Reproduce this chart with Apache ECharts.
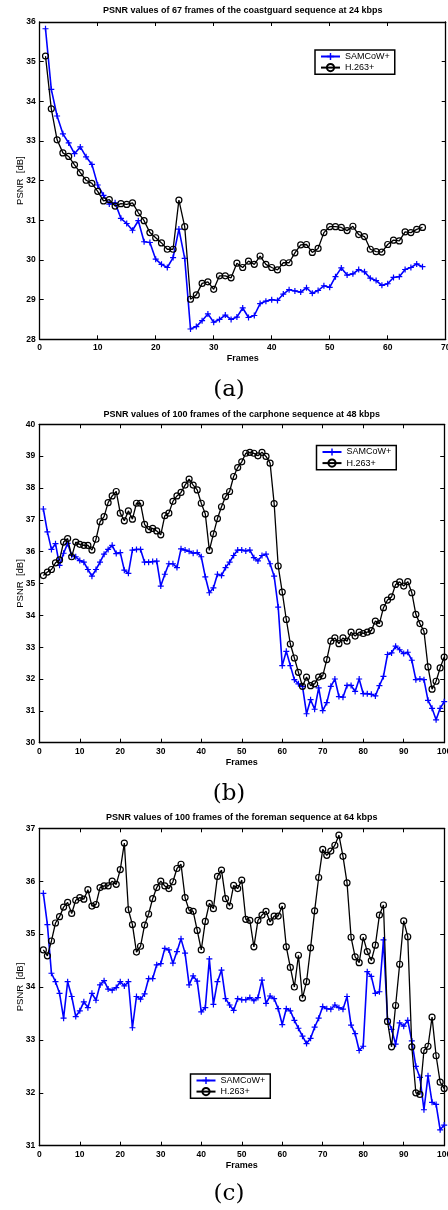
<!DOCTYPE html>
<html><head><meta charset="utf-8">
<script src="https://cdn.jsdelivr.net/npm/echarts@6/dist/echarts.min.js"></script>
<style>html,body{margin:0;padding:0;background:#fff}#c{width:448px;height:1210px}</style>
</head><body><div id="c"></div>
<script>
// ---- data ----
const seriesNames = ['SAMCoW+', 'H.263+'];
const titles = [
  'PSNR values of 67 frames of the coastguard sequence at 24 kbps',
  'PSNR values of 100 frames of the carphone sequence at 48 kbps',
  'PSNR values of 100 frames of the foreman sequence at 64 kbps'
];
const captions = ['(a)', '(b)', '(c)'];
const xAxisName = 'Frames';
const yAxisName = 'PSNR  [dB]';

const samcowA = [35.83,34.30,33.63,33.18,32.95,32.68,32.85,32.60,32.41,31.89,
  31.63,31.41,31.44,31.05,30.92,30.75,30.99,30.46,30.44,30.02,
  29.89,29.81,30.06,30.78,30.04,28.26,28.32,28.47,28.64,28.43,
  28.50,28.61,28.50,28.56,28.79,28.55,28.60,28.90,28.96,29.00,
  28.98,29.14,29.25,29.22,29.19,29.30,29.16,29.23,29.35,29.31,
  29.58,29.80,29.62,29.65,29.76,29.70,29.54,29.48,29.36,29.40,
  29.56,29.58,29.76,29.81,29.90,29.83];
const h263A = [35.14,33.81,33.03,32.70,32.61,32.40,32.20,32.01,31.93,31.73,
  31.49,31.52,31.36,31.42,31.40,31.44,31.19,30.99,30.69,30.56,
  30.43,30.27,30.27,31.51,30.84,29.01,29.12,29.41,29.45,29.26,
  29.60,29.60,29.55,29.92,29.81,29.97,29.89,30.10,29.89,29.81,
  29.75,29.93,29.93,30.18,30.38,30.39,30.19,30.29,30.69,30.84,
  30.84,30.82,30.74,30.85,30.64,30.59,30.27,30.21,30.20,30.39,
  30.50,30.48,30.71,30.69,30.77,30.82];

const samcowB = [37.34,36.62,36.07,36.25,35.57,35.95,36.26,35.88,35.84,35.72,
  35.67,35.44,35.23,35.44,35.67,35.92,36.07,36.20,35.94,35.97,
  35.42,35.32,36.05,36.07,36.07,35.67,35.67,35.69,35.70,34.92,
  35.29,35.62,35.62,35.50,36.09,36.05,36.01,35.95,35.97,35.84,
  35.21,34.71,34.86,35.29,35.25,35.50,35.67,35.88,36.05,36.05,
  36.02,36.05,35.81,35.71,35.88,35.92,35.62,35.23,34.26,32.42,
  32.87,32.42,31.98,31.85,31.77,30.91,31.35,31.05,31.72,31.01,
  31.26,31.77,32.00,31.45,31.43,31.80,31.80,31.61,32.00,31.54,
  31.54,31.52,31.47,31.79,32.08,32.77,32.82,33.03,32.92,32.80,
  32.84,32.59,31.98,32.00,31.98,31.33,31.08,30.72,31.08,31.29];
const h263B = [35.25,35.36,35.44,35.65,35.74,36.30,36.41,35.84,36.30,36.23,
  36.20,36.20,36.05,36.39,36.94,37.10,37.54,37.75,37.89,37.21,
  36.97,37.28,37.02,37.52,37.52,36.86,36.69,36.73,36.65,36.53,
  37.13,37.21,37.58,37.75,37.86,38.09,38.28,38.09,37.94,37.52,
  37.18,36.04,36.56,37.04,37.41,37.73,37.89,38.36,38.64,38.82,
  39.09,39.12,39.09,39.01,39.12,38.99,38.78,37.51,35.55,34.73,
  33.87,33.10,32.66,32.21,31.77,32.06,31.79,31.85,32.06,32.10,
  32.61,33.19,33.29,33.11,33.29,33.19,33.47,33.35,33.47,33.43,
  33.47,33.52,33.82,33.74,34.24,34.48,34.58,34.97,35.05,34.92,
  35.06,34.71,34.03,33.74,33.50,32.38,31.68,31.93,32.35,32.69];

const samcowC = [35.77,35.18,34.26,34.10,33.88,33.41,34.10,33.82,33.44,33.55,
  33.72,33.61,33.88,33.75,34.04,34.12,33.96,33.94,33.99,34.10,
  34.02,34.10,33.23,33.82,33.77,33.87,34.16,34.16,34.42,34.44,
  34.73,34.70,34.45,34.67,34.91,34.64,34.04,34.21,34.11,33.53,
  33.61,34.53,33.67,34.10,34.32,33.78,33.66,33.56,33.78,33.76,
  33.76,33.80,33.74,33.80,34.13,33.69,33.83,33.78,33.59,33.29,
  33.59,33.55,33.37,33.22,33.07,32.93,33.03,33.24,33.41,33.63,
  33.59,33.58,33.66,33.61,33.58,33.82,33.28,33.12,32.80,32.88,
  34.29,34.20,33.88,33.91,34.89,33.39,33.20,32.92,33.32,33.26,
  33.37,32.98,32.50,32.29,31.68,32.32,31.82,31.78,31.30,31.39];
const h263C = [34.70,34.59,34.87,35.21,35.33,35.51,35.60,35.39,35.64,35.69,
  35.66,35.84,35.53,35.56,35.88,35.91,35.91,36.00,35.94,36.22,
  36.72,35.46,35.18,34.66,34.77,35.17,35.38,35.67,35.88,36.00,
  35.91,35.86,35.99,36.24,36.32,35.69,35.45,35.43,35.07,34.70,
  35.24,35.58,35.48,36.09,36.21,35.67,35.53,35.92,35.86,36.02,
  35.28,35.26,34.76,35.26,35.36,35.43,35.23,35.34,35.34,35.53,
  34.76,34.37,34.00,34.60,33.79,34.10,34.74,35.44,36.07,36.60,
  36.49,36.57,36.68,36.87,36.47,35.97,34.94,34.57,34.46,34.94,
  34.67,34.50,34.79,35.36,35.55,33.35,32.87,33.65,34.43,35.25,
  34.95,32.87,32.00,31.97,32.80,32.88,33.43,32.70,32.20,32.08];

const xTicksA = {min: 0, max: 70, interval: 10};
const yTicksA = {min: 28, max: 36, interval: 1};
const xTicksB = {min: 0, max: 100, interval: 10};
const yTicksB = {min: 30, max: 40, interval: 1};
const xTicksC = {min: 0, max: 100, interval: 10};
const yTicksC = {min: 31, max: 37, interval: 1};

// ---- layout ----
const panels = [
  {blue: samcowA, black: h263A, xt: xTicksA, yt: yTicksA,
   grid: {left: 39.7, top: 22, width: 406, height: 317.3},
   titleY: 11, capY: 390, legend: {left: 315, top: 50}},
  {blue: samcowB, black: h263B, xt: xTicksB, yt: yTicksB,
   grid: {left: 39.3, top: 424.3, width: 404.9, height: 318.4},
   titleY: 415, capY: 794, legend: {left: 316.5, top: 445.5}},
  {blue: samcowC, black: h263C, xt: xTicksC, yt: yTicksC,
   grid: {left: 39.3, top: 828.3, width: 404.9, height: 317.4},
   titleY: 818, capY: 1194, legend: {left: 190.5, top: 1074}}
];

const FONT = '"Liberation Sans", Arial, Helvetica, sans-serif';
const plusPath = 'path://M4,0H6V4H10V6H6V10H4V6H0V4H4Z';

const grids = [], xAxes = [], yAxes = [], series = [], legends = [], graphics = [];
const lineAx = {show: true, onZero: false, lineStyle: {color: '#000', width: 1.3}};
const tickAx = {show: true, inside: true, length: 4, lineStyle: {color: '#000', width: 1}};
const lab = {color: '#000', fontSize: 8.5, fontWeight: 'bold', fontFamily: FONT, margin: 4};

panels.forEach((p, i) => {
  grids.push(Object.assign({outerBoundsMode: 'none', containLabel: false}, p.grid));
  xAxes.push({type: 'value', gridIndex: i, position: 'bottom', min: p.xt.min, max: p.xt.max, interval: p.xt.interval,
    axisLine: lineAx, axisTick: tickAx, splitLine: {show: false}, axisLabel: lab,
    name: xAxisName, nameLocation: 'middle', nameGap: 15, nameMoveOverlap: false,
    nameTextStyle: {color: '#000', fontSize: 9, fontWeight: 'bold', fontFamily: FONT}});
  xAxes.push({type: 'value', gridIndex: i, position: 'top', min: p.xt.min, max: p.xt.max, interval: p.xt.interval,
    axisLine: lineAx, axisTick: tickAx, splitLine: {show: false}, axisLabel: {show: false}});
  yAxes.push({type: 'value', gridIndex: i, position: 'left', min: p.yt.min, max: p.yt.max, interval: p.yt.interval,
    axisLine: lineAx, axisTick: tickAx, splitLine: {show: false}, axisLabel: lab,
    name: yAxisName, nameLocation: 'middle', nameGap: 14, nameRotate: 90, nameMoveOverlap: false,
    nameTextStyle: {color: '#000', fontSize: 9.5, fontFamily: FONT}});
  yAxes.push({type: 'value', gridIndex: i, position: 'right', min: p.yt.min, max: p.yt.max, interval: p.yt.interval,
    axisLine: lineAx, axisTick: tickAx, splitLine: {show: false}, axisLabel: {show: false}});

  series.push({name: seriesNames[0], type: 'line', xAxisIndex: 2 * i, yAxisIndex: 2 * i,
    data: p.blue.map((v, k) => [k + 1, v]),
    symbol: plusPath, symbolSize: 6, showAllSymbol: true,
    lineStyle: {color: '#0000ff', width: 1.6},
    itemStyle: {color: '#0000ff'}, emphasis: {disabled: true}, z: 2});
  series.push({name: seriesNames[1], type: 'line', xAxisIndex: 2 * i, yAxisIndex: 2 * i,
    data: p.black.map((v, k) => [k + 1, v]),
    symbol: 'circle', symbolSize: 6, showAllSymbol: true,
    lineStyle: {color: '#000', width: 1.3},
    itemStyle: {color: 'rgba(0,0,0,0)', borderColor: '#000', borderWidth: 1.2},
    emphasis: {disabled: true}, z: 3});

  legends.push({left: p.legend.left, top: p.legend.top, orient: 'vertical',
    data: seriesNames, itemWidth: 19, itemHeight: 9, itemGap: 2,
    padding: [2, 5, 2, 5], borderColor: '#000', borderWidth: 1.5, backgroundColor: '#fff',
    selectedMode: false,
    textStyle: {color: '#000', fontSize: 9, fontFamily: FONT}});

  const cx = p.grid.left + p.grid.width / 2;
  graphics.push({type: 'text', x: cx, y: p.titleY,
    style: {text: titles[i], font: 'bold 9px ' + FONT, fill: '#000', align: 'center', verticalAlign: 'middle'}});
  graphics.push({type: 'text', x: 229, y: p.capY,
    style: {text: captions[i], font: '23px "DejaVu Serif", serif', fill: '#000', align: 'center', verticalAlign: 'middle'}});
});

const chart = echarts.init(document.getElementById('c'), null, {renderer: 'canvas'});
chart.setOption({
  animation: false,
  backgroundColor: '#fff',
  grid: grids, xAxis: xAxes, yAxis: yAxes, series: series, legend: legends,
  graphic: graphics
});
</script></body></html>
